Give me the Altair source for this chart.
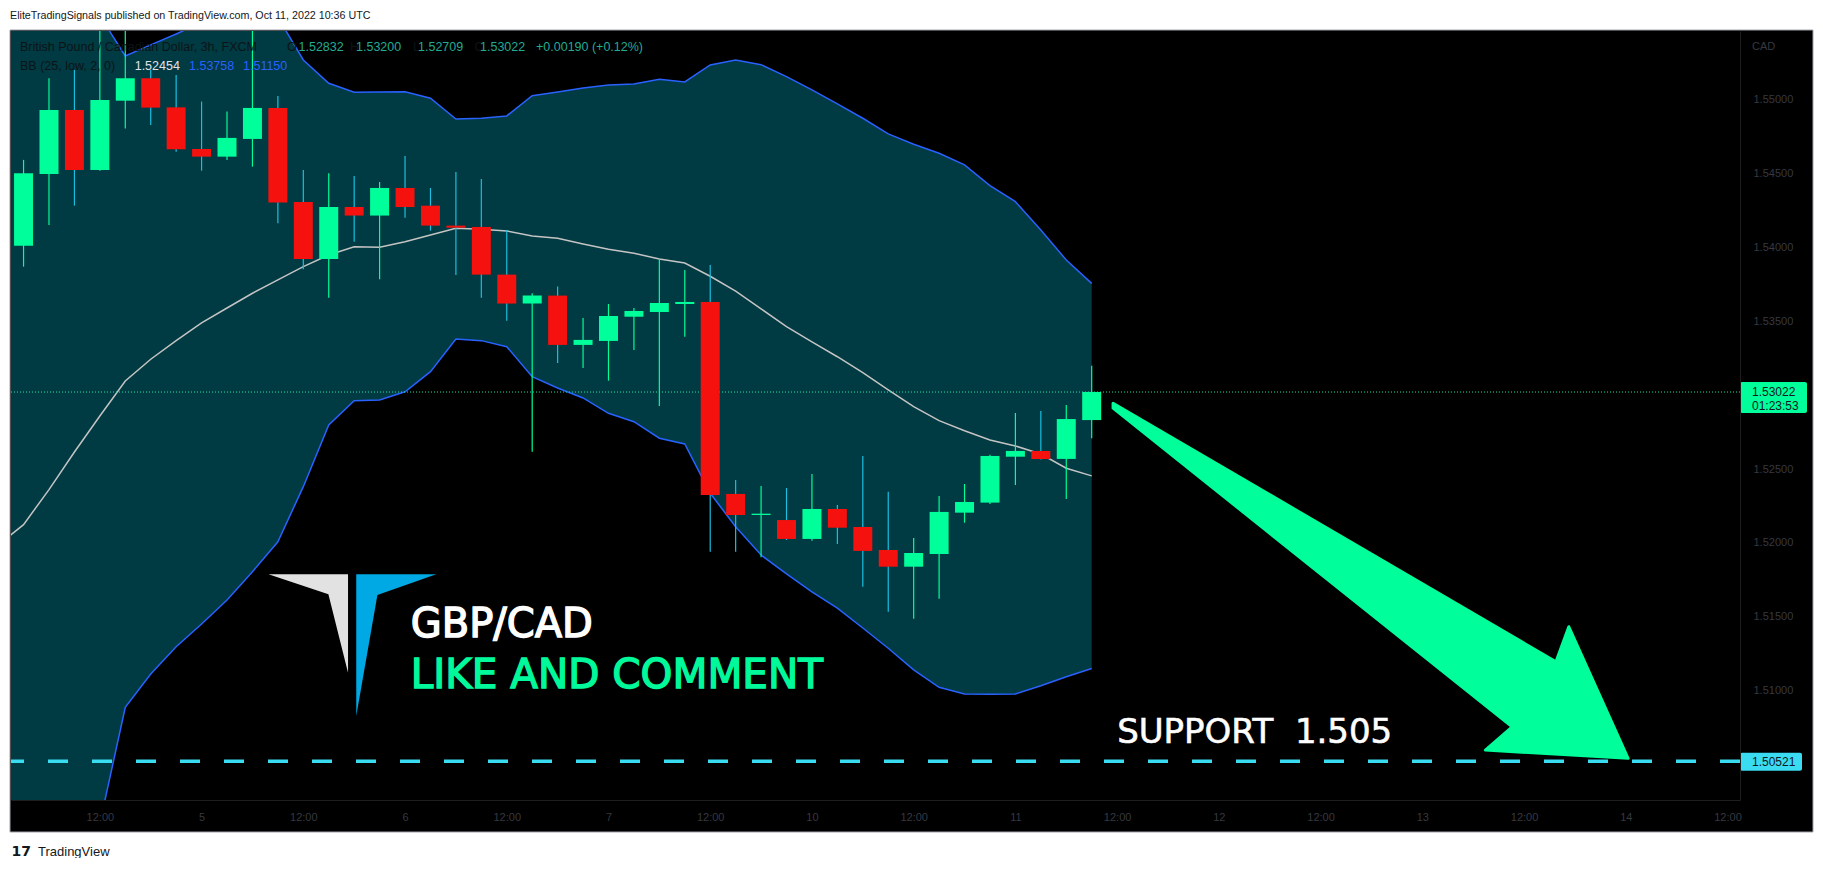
import json
import altair as alt
import pandas as pd

# ---------------- data ----------------
bar_index = list(range(43))
opens = [1.54013, 1.54499, 1.54932, 1.54526, 1.54995, 1.55147, 1.54950, 1.54668, 1.54616, 1.54736,
         1.54946, 1.54309, 1.53923, 1.54275, 1.54217, 1.54404, 1.54284, 1.54149, 1.54140, 1.53817,
         1.53621, 1.53675, 1.53341, 1.53368, 1.53532, 1.53564, 1.53618, 1.53632, 1.52332, 1.52189,
         1.52155, 1.52027, 1.52230, 1.52108, 1.51952, 1.51839, 1.51925, 1.52205, 1.52273, 1.52584,
         1.52623, 1.52569, 1.52832]
highs = [1.54594, 1.55147, 1.55203, 1.55480, 1.55500, 1.55203, 1.55169, 1.54989, 1.54921, 1.55500,
         1.55027, 1.54526, 1.54503, 1.54485, 1.54445, 1.54621, 1.54404, 1.54512, 1.54465, 1.54120,
         1.53691, 1.53736, 1.53524, 1.53618, 1.53591, 1.53921, 1.53849, 1.53882, 1.52426, 1.52386,
         1.52372, 1.52467, 1.52257, 1.52589, 1.52347, 1.52034, 1.52318, 1.52399, 1.52598, 1.52880,
         1.52894, 1.52934, 1.53200]
lows = [1.53871, 1.54153, 1.54284, 1.54520, 1.54806, 1.54831, 1.54650, 1.54521, 1.54594, 1.54548,
        1.54165, 1.53853, 1.53661, 1.54040, 1.53785, 1.54203, 1.54115, 1.53815, 1.53661, 1.53505,
        1.52618, 1.53219, 1.53185, 1.53099, 1.53307, 1.52928, 1.53397, 1.51941, 1.51941, 1.51903,
        1.52020, 1.52015, 1.51993, 1.51704, 1.51534, 1.51487, 1.51622, 1.52137, 1.52264, 1.52392,
        1.52565, 1.52298, 1.52709]
closes = [1.54503, 1.54932, 1.54526, 1.55000, 1.55147, 1.54948, 1.54666, 1.54616, 1.54743, 1.54946,
          1.54305, 1.53923, 1.54275, 1.54217, 1.54404, 1.54275, 1.54149, 1.54135, 1.53817, 1.53621,
          1.53675, 1.53341, 1.53375, 1.53537, 1.53571, 1.53625, 1.53632, 1.52325, 1.52189, 1.52198,
          1.52027, 1.52230, 1.52103, 1.51946, 1.51839, 1.51932, 1.52210, 1.52277, 1.52589, 1.52623,
          1.52569, 1.52839, 1.53022]

bb_index = list(range(-1, 43))
bb_basis = [1.51986, 1.52124, 1.52361, 1.52616, 1.52860, 1.53097, 1.53244, 1.53370, 1.53490, 1.53591,
            1.53691, 1.53781, 1.53871, 1.53950, 1.54006, 1.54003, 1.54040, 1.54086, 1.54131, 1.54124,
            1.54113, 1.54079, 1.54063, 1.54025, 1.53989, 1.53962, 1.53923, 1.53896, 1.53806, 1.53706,
            1.53585, 1.53465, 1.53361, 1.53261, 1.53153, 1.53036, 1.52923, 1.52828, 1.52760, 1.52697,
            1.52657, 1.52602, 1.52506, 1.52454]
bb_upper = [1.5573, 1.5570, 1.5566, 1.5562, 1.5557, 1.55298, 1.55373, 1.55447, 1.55524, 1.5556,
            1.5558, 1.5556, 1.55271, 1.55113, 1.55052, 1.55054, 1.55056, 1.55012, 1.54871, 1.54876,
            1.54892, 1.55029, 1.55054, 1.55081, 1.55102, 1.55108, 1.55140, 1.55122, 1.55237, 1.55271,
            1.55239, 1.55158, 1.55068, 1.54973, 1.54876, 1.54770, 1.54700, 1.54639, 1.54560, 1.54420,
            1.54311, 1.54120, 1.53916, 1.53758]
bb_lower = [1.4965, 1.4975, 1.4985, 1.4995, 1.5010, 1.50887, 1.51112, 1.51297, 1.51451, 1.51614,
            1.51805, 1.52008, 1.52381, 1.52799, 1.52963, 1.52968, 1.53024, 1.53160, 1.53381, 1.53370,
            1.53329, 1.53126, 1.53049, 1.52982, 1.52878, 1.52821, 1.52709, 1.52670, 1.52336, 1.52110,
            1.51918, 1.51790, 1.51668, 1.51559, 1.51424, 1.51287, 1.51140, 1.51022, 1.50977, 1.50975,
            1.50977, 1.51033, 1.51094, 1.51150]

time_tick_index = [3, 7, 11, 15, 19, 23, 27, 31, 35, 39, 43, 47, 51, 55, 59, 63, 67]
time_tick_labels = ["12:00", "5", "12:00", "6", "12:00", "7", "12:00", "10", "12:00", "11",
                    "12:00", "12", "12:00", "13", "12:00", "14", "12:00"]
price_ticks = [1.510, 1.515, 1.520, 1.525, 1.535, 1.540, 1.545, 1.550]

last_price = 1.53022
countdown = "01:23:53"
support_price = 1.50521
support_text = "SUPPORT\u00a0 1.505"
support_text_anchor = (43.0, 1.50643)
arrow_start = (42.86, 1.52948)
arrow_end = (63.07, 1.50541)

header_text = "EliteTradingSignals published on TradingView.com, Oct 11, 2022 10:36 UTC"
legend_line1 = [("British Pound / Canadian Dollar, 3h, FXCM", "dim"), ("O", "dim"), ("1.52832", "val"),
                ("H", "dim"), ("1.53200", "val"), ("L", "dim"), ("1.52709", "val"),
                ("C", "dim"), ("1.53022", "val"), ("+0.00190 (+0.12%)", "val")]
legend_line2 = [("BB (25, low, 2, 0)", "dim"), ("1.52454", "basis"), ("1.53758", "band"), ("1.51150", "band")]

# ---------------- geometry & styles ----------------
W, H = 1729, 769
X_DOMAIN = [-0.297, 67.295]
Y_DOMAIN = [1.50259, 1.55467]
GREEN = "#00fe9a"
RED = "#f4110e"
WICK_RED = "#1bbfe0"
BAND_FILL = "#003a42"
BAND_LINE = "#2962ff"
BASIS = "#c4c4c4"
CYAN = "#3adcf2"
AXIS_TXT = "#363941"
DIM = "#0d1417"
VAL = "#22ab94"
UI_FONT = "Liberation Sans"

LEGEND_COLORS = {"dim": DIM, "val": VAL, "basis": "#e0e3eb", "band": BAND_LINE}

xs = alt.Scale(domain=X_DOMAIN, nice=False, zero=False)
ys = alt.Scale(domain=Y_DOMAIN, nice=False, zero=False)

x_axis = alt.Axis(values=time_tick_index, orient="bottom", title=None, ticks=False, tickSize=0,
                  grid=False, domainColor="#1e1e1e", labelColor=AXIS_TXT, labelFont=UI_FONT,
                  labelFontSize=11, labelPadding=17, labelBaseline="middle", labelFlush=False,
                  labelOverlap=False, zindex=1,
                  labelExpr=f"{json.dumps(time_tick_labels)}[indexof({json.dumps(time_tick_index)}, datum.value)]")
y_axis = alt.Axis(values=price_ticks, orient="right", title=None, ticks=False, tickSize=0, grid=False,
                  domainColor="#1e1e1e", labelColor=AXIS_TXT, labelFont=UI_FONT, labelFontSize=11,
                  labelPadding=13, labelAlign="left", labelBaseline="middle", format=".5f",
                  labelFlush=False, labelOverlap=False, zindex=1)


def X(field):
    return alt.X(field, type="quantitative", scale=xs, axis=x_axis)


def Y(field):
    return alt.Y(field, type="quantitative", scale=ys, axis=y_axis)


one = pd.DataFrame({"k": [0]})


def label(text, x, y, size, color, font, align="left", baseline="middle", weight="normal", stroke_w=0):
    kw = {}
    if stroke_w:
        kw = {"stroke": color, "strokeWidth": stroke_w}
    return alt.Chart(one).mark_text(
        text=text, align=align, baseline=baseline, fontSize=size, font=font,
        color=color, fontWeight=weight, **kw
    ).encode(x=alt.value(x), y=alt.value(y))


def white_strip(x0, x1, y0, y1):
    return alt.Chart(one).mark_rect(fill="white").encode(
        x=alt.value(x0), x2=alt.value(x1), y=alt.value(y0), y2=alt.value(y1))


candles = pd.DataFrame({"i": bar_index, "open": opens, "high": highs, "low": lows, "close": closes})
bands = pd.DataFrame({"i": bb_index, "basis": bb_basis, "upper": bb_upper, "lower": bb_lower})

# white page strips around the black chart frame (canvas background is black)
strips = [
    white_strip(-3, W + 74, -23, -1),
    white_strip(-3, W + 74, H + 32, H + 58),
    white_strip(-3, -1, -23, H + 58),
    white_strip(W + 73, W + 74, -23, H + 58),
]
frame = alt.Chart(one).mark_rect(fillOpacity=0, stroke="#a0a3ab", strokeWidth=1).encode(
    x=alt.value(-1), x2=alt.value(W + 73), y=alt.value(-1), y2=alt.value(H + 32))

band_area = alt.Chart(bands).mark_area(color=BAND_FILL, opacity=1, clip=True).encode(
    x=X("i"), y=Y("upper"), y2="lower")
upper_line = alt.Chart(bands).mark_line(color=BAND_LINE, strokeWidth=1.5, clip=True).encode(
    x=X("i"), y=Y("upper"))
lower_line = alt.Chart(bands).mark_line(color=BAND_LINE, strokeWidth=1.5, clip=True).encode(
    x=X("i"), y=Y("lower"))
basis_line = alt.Chart(bands).mark_line(color=BASIS, strokeWidth=1.5, clip=True).encode(
    x=X("i"), y=Y("basis"))

price_df = pd.DataFrame({"p": [last_price]})
support_df = pd.DataFrame({"p": [support_price]})
last_rule = alt.Chart(price_df).mark_rule(color="#1fe3a6", strokeWidth=1, strokeDash=[1, 2]).encode(y=Y("p"))
support_rule = alt.Chart(support_df).mark_rule(color=CYAN, strokeWidth=3.5, strokeDash=[20, 24]).encode(y=Y("p"))

is_up = "datum.close >= datum.open"
wicks = alt.Chart(candles).mark_rule(strokeWidth=1.2, clip=True).encode(
    x=X("i"), y=Y("low"), y2="high",
    color=alt.condition(is_up, alt.value(GREEN), alt.value(WICK_RED)))
bodies = alt.Chart(candles).mark_bar(size=19, clip=True).encode(
    x=X("i"), y=Y("open"), y2="close",
    color=alt.condition(is_up, alt.value(GREEN), alt.value(RED)))

ARROW_PATH = ("M -1 -0.689 L 0.720 0.315 L 0.770 0.179 L 1 0.690 L 0.446 0.658 "
              "L 0.550 0.568 L -1 -0.670 Z")
arrow_df = pd.DataFrame({"i": [(arrow_start[0] + arrow_end[0]) / 2],
                         "p": [(arrow_start[1] + arrow_end[1]) / 2]})
arrow = alt.Chart(arrow_df).mark_point(shape=ARROW_PATH, size=515 ** 2, filled=True, opacity=1,
                                       color=GREEN, stroke=GREEN, strokeWidth=3, strokeJoin="round").encode(
    x=X("i"), y=Y("p"))

LOGO_GRAY = "M -1 -0.845 L -0.052 -0.845 L -0.052 0.328 L -0.286 -0.607 Z"
LOGO_BLUE = "M 0.046 -0.845 L 1 -0.845 L 0.298 -0.598 L 0.046 0.844 Z"
logo_gray = alt.Chart(one).mark_point(shape=LOGO_GRAY, size=167.8 ** 2, filled=True, opacity=1,
                                      color="#e2e2e2", strokeWidth=0).encode(x=alt.value(341.4), y=alt.value(614.2))
logo_blue = alt.Chart(one).mark_point(shape=LOGO_BLUE, size=167.8 ** 2, filled=True, opacity=1,
                                      color="#00a9e4", strokeWidth=0).encode(x=alt.value(341.4), y=alt.value(614.2))

gbp = label("GBP/CAD", 399.7, 606.3, 40, "white", "DejaVu Sans", baseline="alphabetic", stroke_w=1.4)
like = label("LIKE AND COMMENT", 399.7, 657.3, 40.5, "#00f99a", "DejaVu Sans", baseline="alphabetic", stroke_w=1.4)
support_lbl = alt.Chart(pd.DataFrame({"i": [support_text_anchor[0]], "p": [support_text_anchor[1]]})).mark_text(
    text=support_text, align="left", baseline="alphabetic", fontSize=34, font="DejaVu Sans", color="white",
    stroke="white", strokeWidth=0.6
).encode(x=X("i"), y=Y("p"))

# legend rows
legend_x1 = [9, 276, 287.5, 339, 345, 402, 407, 463.6, 469, 525]
legend_x2 = [9, 123.7, 178, 232]
legend_layers = []
for (t, kind), xx in zip(legend_line1, legend_x1):
    legend_layers.append(label(t, xx, 15.5, 12.5, LEGEND_COLORS[kind], UI_FONT))
for (t, kind), xx in zip(legend_line2, legend_x2):
    legend_layers.append(label(t, xx, 35.3, 12.5, LEGEND_COLORS[kind], UI_FONT))

header = label(header_text, -1, -15, 10.7, "#131722", UI_FONT)
footer_logo = label("17", 0.5, 821, 14, "#131722", "DejaVu Sans", weight="bold")
footer = label("TradingView", 27, 821, 13, "#131722", UI_FONT)
cad = label("CAD", W + 12, 15.5, 11, AXIS_TXT, UI_FONT)

price_box = alt.Chart(price_df).mark_rect(color=GREEN, yOffset=-10, y2Offset=21, cornerRadius=2).encode(
    y=Y("p"), y2="p", x=alt.value(W), x2=alt.value(W + 67))
price_txt = alt.Chart(price_df).mark_text(align="left", baseline="middle", fontSize=12, font=UI_FONT,
                                          color="#131722").encode(
    y=Y("p"), x=alt.value(W + 12), text=alt.Text("p:Q", format=".5f"))
count_txt = alt.Chart(price_df).mark_text(text=countdown, align="left", baseline="middle", fontSize=12, dy=14,
                                          font=UI_FONT, color="#131722").encode(
    y=Y("p"), x=alt.value(W + 12))
support_box = alt.Chart(support_df).mark_rect(color=CYAN, yOffset=-8.5, y2Offset=9.5, cornerRadius=2).encode(
    y=Y("p"), y2="p", x=alt.value(W), x2=alt.value(W + 62))
support_txt = alt.Chart(support_df).mark_text(align="left", baseline="middle", fontSize=12, dy=1,
                                              font=UI_FONT, color="#131722").encode(
    y=Y("p"), x=alt.value(W + 12), text=alt.Text("p:Q", format=".5f"))

chart = alt.layer(
    *strips, frame, band_area, upper_line, lower_line, basis_line, last_rule, support_rule,
    wicks, bodies, arrow, logo_gray, logo_blue, gbp, like, support_lbl,
    *legend_layers, header, footer_logo, footer, cad,
    price_box, price_txt, count_txt, support_box, support_txt,
).properties(
    width=W, height=H,
    padding={"left": 3, "top": 23, "right": 74, "bottom": 58},
    autosize=alt.AutoSizeParams(type="none"),
    background="black",
).configure_view(stroke=None)

chart.save("out.html", embed_options={"renderer": "svg", "actions": False})
